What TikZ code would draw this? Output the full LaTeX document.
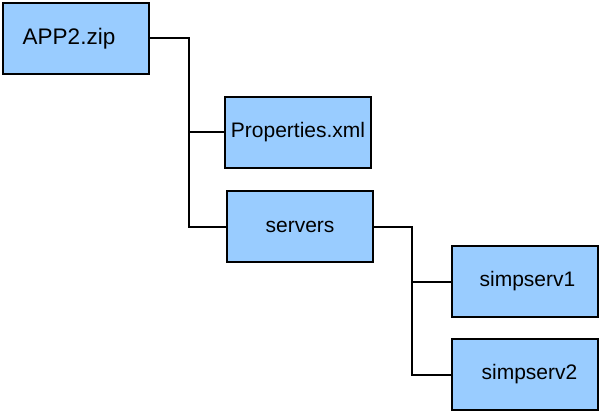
\documentclass[tikz,border=0pt]{standalone}
\usepackage{fontspec}
\setmainfont{Liberation Sans}
\usetikzlibrary{calc,positioning}
\definecolor{boxblue}{RGB}{153,204,255}

\begin{document}
\begin{tikzpicture}[x=1pt,y=-1pt,
    box/.style = {draw, line width=2pt, fill=boxblue, minimum width=146pt, minimum height=71pt,
                  inner sep=0pt, font=\fontsize{21}{25}\selectfont},
    conn/.style = {line width=2pt}]
    \useasboundingbox (0,0) rectangle (602,414);

    % Ordner und Dateien
    \node[box, font=\fontsize{22.5}{27}\selectfont] (app) at (76,38.5) {APP2.zip\kern14pt};
    \node[box] (prop) at (298,132.5) {Properties.xml};
    \node[box] (serv) at (300,226.5) {servers};
    \node[box] (s1) at (524.5,281.5) {\kern6pt simpserv1};
    \node[box] (s2) at (524.5,374.5) {\kern10pt simpserv2};

    % Verbindungslinien
    \coordinate (bus1) at (189,38.5);
    \draw[conn] (app.east) -- (bus1) |- (serv.west);
    \draw[conn] (bus1) |- (prop.west);

    \coordinate (bus2) at (412,226.5);
    \draw[conn] (serv.east) -- (bus2) |- (s2.west);
    \draw[conn] (bus2) |- (s1.west);
\end{tikzpicture}
\end{document}
